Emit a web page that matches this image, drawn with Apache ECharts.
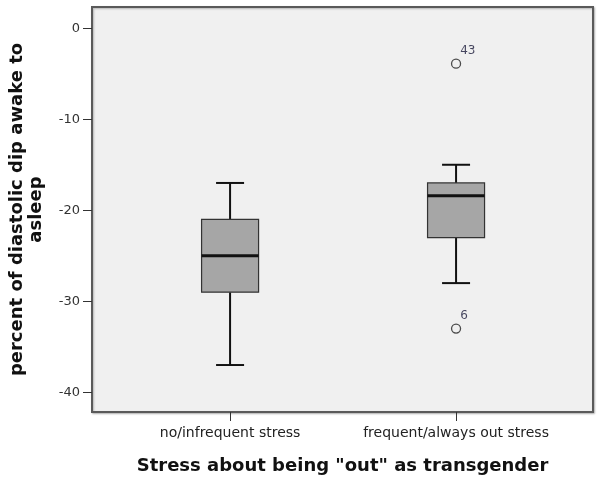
<!DOCTYPE html>
<html>
<head>
<meta charset="utf-8">
<script src="https://cdn.jsdelivr.net/npm/echarts@6/dist/echarts.min.js"></script>
<style>
html,body{margin:0;padding:0;background:#ffffff;}
#chart{width:601px;height:480px;}
</style>
</head>
<body>
<div id="chart"></div>
<script>
// ---- data ----
const categories = ['no/infrequent stress', 'frequent/always out stress'];
const whiskerLow  = [-37, -28];
const q1Values    = [-29, -23];
const medians     = [-25, -18.4];
const q3Values    = [-21, -17];
const whiskerHigh = [-17, -15];
const outlierGroup  = [1, 1];
const outlierValues = [-3.9, -33];
const outlierLabels = ['43', '6'];
const yTicks = [0, -10, -20, -30, -40];

const xAxisTitle = 'Stress about being "out" as transgender';
const yAxisTitle = 'percent of diastolic dip awake to\nasleep';

// ---- build series data ----
const boxData = categories.map((c, i) => [i, whiskerLow[i], q1Values[i], medians[i], q3Values[i], whiskerHigh[i]]);
const outlierData = outlierValues.map((v, i) => ({ value: [outlierGroup[i], v], label: outlierLabels[i] }));

const FONT = 'DejaVu Sans';
const BOX_W = 57, CAP_W = 28;

const chart = echarts.init(document.getElementById('chart'), null, { renderer: 'canvas' });
chart.setOption({
  animation: false,
  backgroundColor: '#ffffff',
  grid: {
    left: 92, top: 7, right: 8, bottom: 67,
    show: true, backgroundColor: '#f0f0f0', borderColor: '#5a5a5a', borderWidth: 2,
    shadowColor: 'rgba(0,0,0,0.25)', shadowBlur: 2, shadowOffsetX: 1, shadowOffsetY: 1
  },
  xAxis: {
    type: 'value', min: -0.611, max: 1.606,
    name: xAxisTitle, nameLocation: 'middle', nameGap: 45,
    nameTextStyle: { fontFamily: FONT, fontSize: 18, fontWeight: 'bold', color: '#111' },
    axisLine: { show: false, onZero: false },
    splitLine: { show: false },
    axisTick: { show: true, customValues: [0, 1], length: 9, lineStyle: { color: '#333', width: 1 } },
    axisLabel: {
      customValues: [0, 1], margin: 14,
      formatter: v => categories[Math.round(v)] || '',
      fontFamily: FONT, fontSize: 14, color: '#222'
    }
  },
  yAxis: {
    type: 'value', min: -42.16, max: 2.33,
    name: yAxisTitle, nameLocation: 'middle', nameGap: 46,
    nameTextStyle: { fontFamily: FONT, fontSize: 18, fontWeight: 'bold', color: '#111', lineHeight: 19, align: 'center' },
    axisLine: { show: false, onZero: false },
    splitLine: { show: false },
    axisTick: { show: true, customValues: yTicks, length: 9, lineStyle: { color: '#333', width: 1 } },
    axisLabel: { customValues: yTicks, margin: 12, fontFamily: FONT, fontSize: 13, color: '#333' }
  },
  series: [
    {
      type: 'custom',
      data: boxData,
      clip: false,
      renderItem: function (params, api) {
        const x = api.value(0);
        const lo = api.coord([x, api.value(1)]);
        const q1 = api.coord([x, api.value(2)]);
        const md = api.coord([x, api.value(3)]);
        const q3 = api.coord([x, api.value(4)]);
        const hi = api.coord([x, api.value(5)]);
        const cx = lo[0];
        const lineStyle = { stroke: '#111', lineWidth: 2 };
        return {
          type: 'group',
          children: [
            { type: 'line', shape: { x1: cx, y1: lo[1], x2: cx, y2: q1[1] }, style: lineStyle },
            { type: 'line', shape: { x1: cx, y1: q3[1], x2: cx, y2: hi[1] }, style: lineStyle },
            { type: 'line', shape: { x1: cx - CAP_W / 2, y1: lo[1], x2: cx + CAP_W / 2, y2: lo[1] }, style: lineStyle },
            { type: 'line', shape: { x1: cx - CAP_W / 2, y1: hi[1], x2: cx + CAP_W / 2, y2: hi[1] }, style: lineStyle },
            { type: 'rect', shape: { x: cx - BOX_W / 2, y: q3[1], width: BOX_W, height: q1[1] - q3[1] },
              style: { fill: '#a6a6a6', stroke: '#333', lineWidth: 1.2 } },
            { type: 'line', shape: { x1: cx - BOX_W / 2, y1: md[1], x2: cx + BOX_W / 2, y2: md[1] },
              style: { stroke: '#111', lineWidth: 3 } }
          ]
        };
      }
    },
    {
      type: 'scatter',
      data: outlierData,
      symbol: 'circle',
      symbolSize: 9,
      itemStyle: { color: '#f0f0f0', borderColor: '#222', borderWidth: 1.3 },
      label: {
        show: true, position: 'right', distance: 0, offset: [-1, -13],
        formatter: p => p.data.label,
        fontFamily: FONT, fontSize: 12, color: '#1a1a3a'
      }
    }
  ]
});
</script>
</body>
</html>
